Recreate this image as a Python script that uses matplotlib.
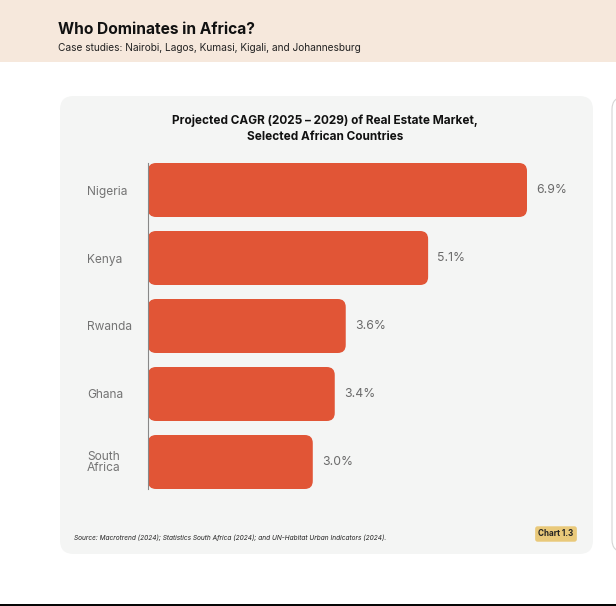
import matplotlib.pyplot as plt
from matplotlib.patches import FancyBboxPatch, Rectangle
from matplotlib.lines import Line2D

countries = ["Nigeria", "Kenya", "Rwanda", "Ghana", "South\nAfrica"]
cagr = [6.9, 5.1, 3.6, 3.4, 3.0]
value_labels = ["6.9%", "5.1%", "3.6%", "3.4%", "3.0%"]

W, H = 616, 606
BAR_COLOR = "#E15536"
CARD_COLOR = "#F4F5F4"
HEADER_COLOR = "#F6E8DC"

plt.rcParams['font.family'] = ['Inter', 'DejaVu Sans']

fig = plt.figure(figsize=(W / 100, H / 100), dpi=100)
fig.patch.set_facecolor("white")


def fx(px):
    return px / W


def fy(py):
    # py measured from the top of the image
    return 1 - py / H


# header band
fig.patches.append(Rectangle((0, fy(62)), 1, 62 / H, transform=fig.transFigure,
                             facecolor=HEADER_COLOR, edgecolor="none", zorder=-5))
fig.text(fx(58), fy(30), "Who Dominates in Africa?", fontsize=11.2, fontweight="bold",
         color="#111111", va="center", ha="left")
fig.text(fx(58), fy(48), "Case studies: Nairobi, Lagos, Kumasi, Kigali, and Johannesburg",
         fontsize=7.3, color="#222222", va="center", ha="left")

# chart card
fig.patches.append(FancyBboxPatch((fx(60), fy(554)), fx(593 - 60), (554 - 96) / H,
                                  boxstyle="round,pad=0,rounding_size=0.022",
                                  mutation_aspect=W / H,
                                  transform=fig.transFigure, facecolor=CARD_COLOR,
                                  edgecolor="none", zorder=-5))
# neighbouring panel peeking in on the right
fig.patches.append(FancyBboxPatch((fx(612), fy(552)), fx(60), (552 - 97) / H,
                                  boxstyle="round,pad=0,rounding_size=0.02",
                                  mutation_aspect=W / H,
                                  transform=fig.transFigure, facecolor="white",
                                  edgecolor="#D5D5D5", linewidth=0.8, zorder=-5))
# bottom rule
fig.lines.append(Line2D([0, 1], [fy(604.5), fy(604.5)], transform=fig.transFigure,
                        color="black", linewidth=1.4))

fig.text(fx(325), fy(121), "Projected CAGR (2025 – 2029) of Real Estate Market,",
         fontsize=8.5, fontweight="bold", color="#111111", ha="center", va="center")
fig.text(fx(325), fy(137), "Selected African Countries",
         fontsize=8.5, fontweight="bold", color="#111111", ha="center", va="center")

# bar axes
ax_left, ax_right, ax_top, ax_bot = 148, 580, 163, 489
ax = fig.add_axes([fx(ax_left), fy(ax_bot), fx(ax_right - ax_left), (ax_bot - ax_top) / H])
ax.set_zorder(2)
ax.set_facecolor("none")
px_per_x = (527 - 148) / 6.9
xmax = (ax_right - ax_left) / px_per_x
ax.set_xlim(0, xmax)
bar_h = 54 / 68
ax.set_ylim(len(countries) - 1 + bar_h / 2, -bar_h / 2)

ypos = list(range(len(countries)))
bars = ax.barh(ypos, cagr, height=bar_h, color=BAR_COLOR)
px_per_y = 68
r = 8 / px_per_x
for b in bars:
    x0, y0, w, h = b.get_x(), b.get_y(), b.get_width(), b.get_height()
    b.remove()
    ax.add_patch(FancyBboxPatch((x0, y0), w, h,
                                boxstyle=f"round,pad=0,rounding_size={r}",
                                mutation_aspect=px_per_x / px_per_y,
                                facecolor=BAR_COLOR, edgecolor="none", zorder=2))

for y, v, lab in zip(ypos, cagr, value_labels):
    ax.text(v + 9 / px_per_x, y, lab, fontsize=8.8, color="#6A6A6A",
            va="center", ha="left", clip_on=False)

ax.set_yticks(ypos)
ax.set_yticklabels(countries, fontsize=8.6, color="#737373", ha="left", linespacing=0.82)
ax.tick_params(axis="y", length=0, pad=61 * 0.72)
ax.set_xticks([])
for s in ["top", "right", "bottom"]:
    ax.spines[s].set_visible(False)
ax.spines["left"].set_color("#888888")
ax.spines["left"].set_linewidth(0.8)

# footer
fig.text(fx(74), fy(538),
         "Source: Macrotrend (2024); Statistics South Africa (2024); and UN-Habitat Urban Indicators (2024).",
         fontsize=4.7, style="italic", color="#222222", ha="left", va="center")
fig.text(fx(556), fy(534), "Chart 1.3", fontsize=5.8, fontweight="bold", color="#222222",
         ha="center", va="center",
         bbox=dict(boxstyle="round,pad=0.4,rounding_size=0.3", facecolor="#E9C97A",
                   edgecolor="none"))

fig.savefig("out.png", dpi=100, facecolor=fig.get_facecolor())
